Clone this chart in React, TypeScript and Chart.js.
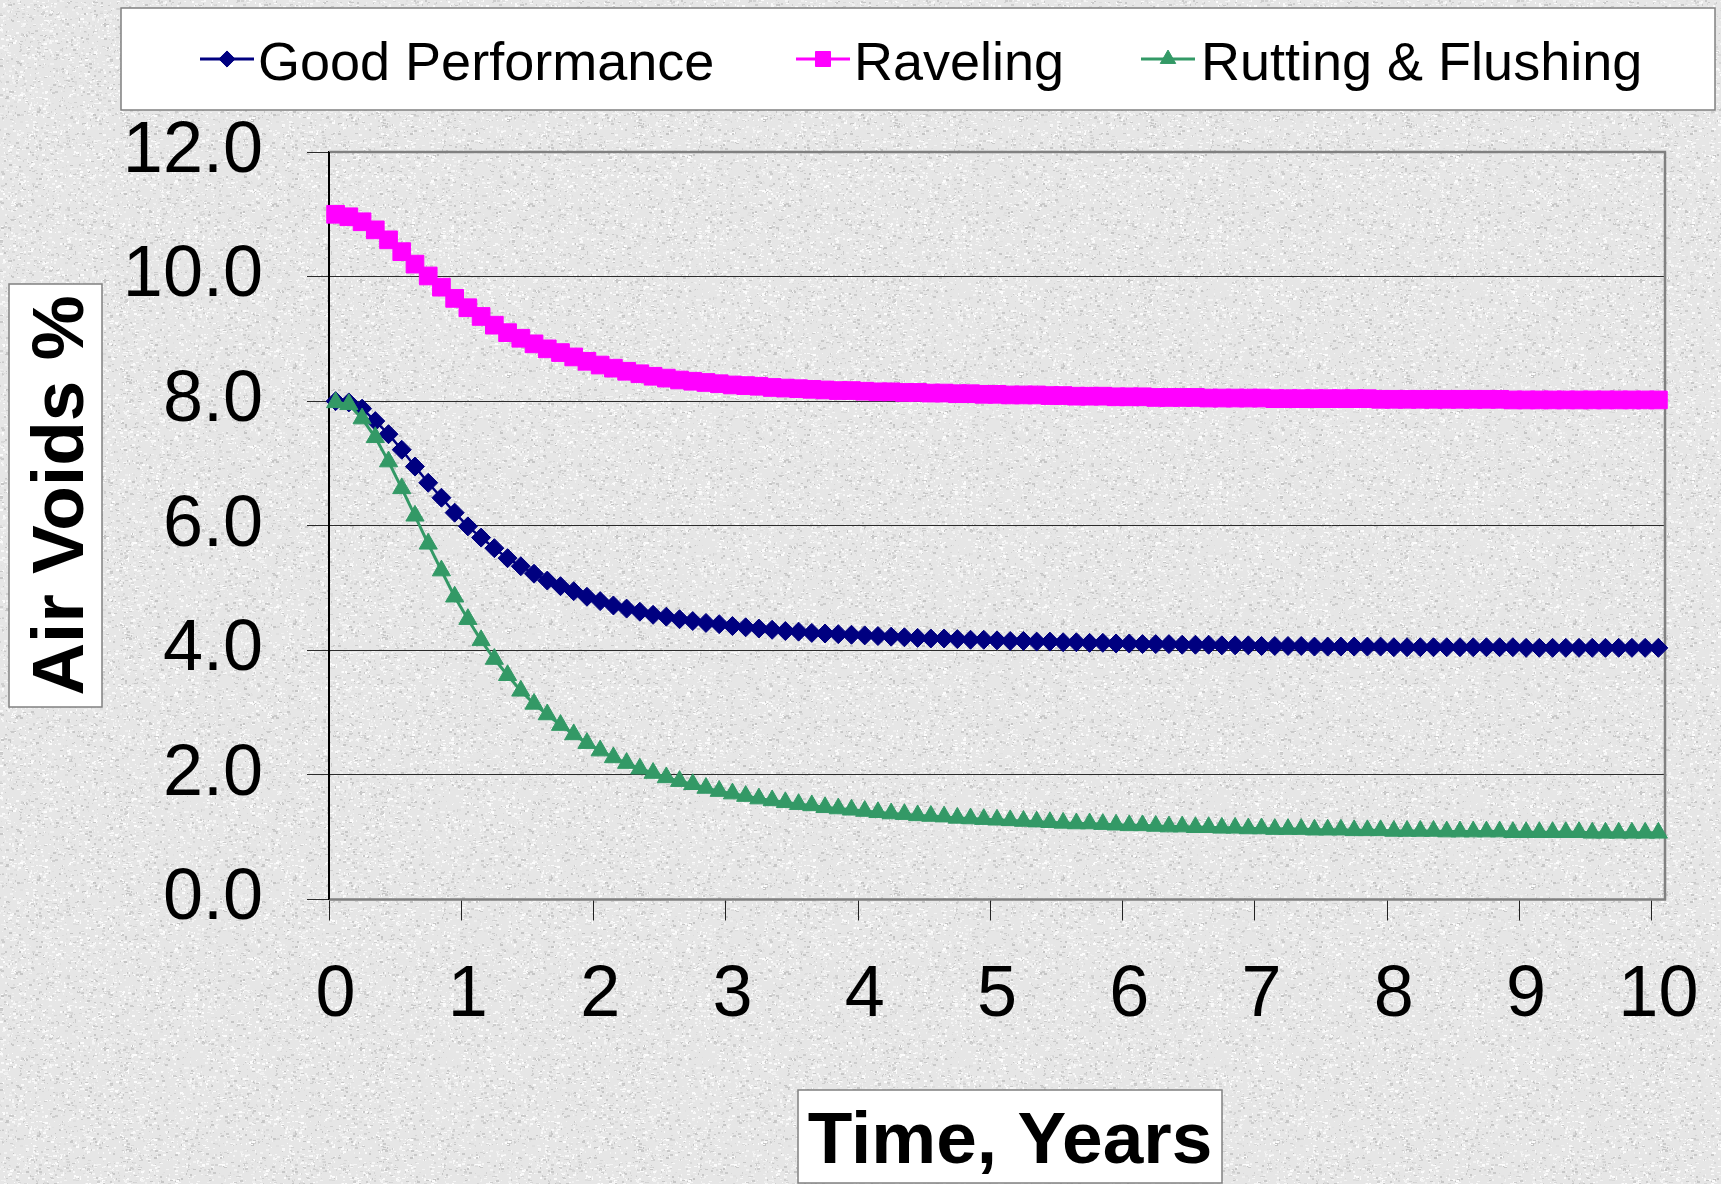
import React, { useEffect, useRef } from 'react';
import { Chart, registerables } from 'chart.js';

Chart.register(...registerables);

// ---- data -------------------------------------------------------------

// Time in years, one category every 0.1 year
const YEARS = [
  0, 0.1, 0.2, 0.3, 0.4, 0.5, 0.6, 0.7, 0.8, 0.9,
  1, 1.1, 1.2, 1.3, 1.4, 1.5, 1.6, 1.7, 1.8, 1.9,
  2, 2.1, 2.2, 2.3, 2.4, 2.5, 2.6, 2.7, 2.8, 2.9,
  3, 3.1, 3.2, 3.3, 3.4, 3.5, 3.6, 3.7, 3.8, 3.9,
  4, 4.1, 4.2, 4.3, 4.4, 4.5, 4.6, 4.7, 4.8, 4.9,
  5, 5.1, 5.2, 5.3, 5.4, 5.5, 5.6, 5.7, 5.8, 5.9,
  6, 6.1, 6.2, 6.3, 6.4, 6.5, 6.6, 6.7, 6.8, 6.9,
  7, 7.1, 7.2, 7.3, 7.4, 7.5, 7.6, 7.7, 7.8, 7.9,
  8, 8.1, 8.2, 8.3, 8.4, 8.5, 8.6, 8.7, 8.8, 8.9,
  9, 9.1, 9.2, 9.3, 9.4, 9.5, 9.6, 9.7, 9.8, 9.9,
  10,
];

// Labels shown under every tenth category
const X_TICK_LABELS = ['0', '1', '2', '3', '4', '5', '6', '7', '8', '9', '10'];

const SERIES_NAMES = ['Good Performance', 'Raveling', 'Rutting & Flushing'];

// Air voids (%)
const GOOD_PERFORMANCE = [
  8.0, 7.98, 7.88, 7.68, 7.47, 7.22, 6.95, 6.69, 6.45, 6.21,
  5.99, 5.81, 5.64, 5.48, 5.35, 5.23, 5.12, 5.03, 4.95, 4.86,
  4.79, 4.72, 4.67, 4.62, 4.57, 4.54, 4.5, 4.47, 4.44, 4.42,
  4.39, 4.37, 4.35, 4.33, 4.31, 4.3, 4.28, 4.27, 4.26, 4.25,
  4.24, 4.23, 4.22, 4.21, 4.2, 4.19, 4.19, 4.18, 4.17, 4.17,
  4.16, 4.15, 4.15, 4.14, 4.14, 4.13, 4.13, 4.12, 4.12, 4.11,
  4.11, 4.1, 4.1, 4.1, 4.09, 4.09, 4.09, 4.08, 4.08, 4.08,
  4.07, 4.07, 4.07, 4.07, 4.06, 4.06, 4.06, 4.06, 4.06, 4.06,
  4.05, 4.05, 4.05, 4.05, 4.05, 4.05, 4.05, 4.05, 4.05, 4.05,
  4.04, 4.04, 4.04, 4.04, 4.04, 4.04, 4.04, 4.04, 4.04, 4.04,
  4.04,
];

const RAVELING = [
  11.0, 10.96, 10.88, 10.75, 10.59, 10.4, 10.2, 10.01, 9.83, 9.65,
  9.5, 9.36, 9.22, 9.1, 9.01, 8.92, 8.84, 8.78, 8.71, 8.64,
  8.58, 8.53, 8.48, 8.44, 8.4, 8.37, 8.34, 8.32, 8.3, 8.28,
  8.26, 8.25, 8.24, 8.22, 8.21, 8.2, 8.19, 8.18, 8.17, 8.17,
  8.16, 8.15, 8.15, 8.14, 8.14, 8.13, 8.13, 8.12, 8.12, 8.11,
  8.11, 8.1, 8.1, 8.1, 8.09, 8.09, 8.08, 8.08, 8.08, 8.07,
  8.07, 8.07, 8.06, 8.06, 8.06, 8.06, 8.05, 8.05, 8.05, 8.05,
  8.05, 8.04, 8.04, 8.04, 8.04, 8.04, 8.04, 8.04, 8.04, 8.03,
  8.03, 8.03, 8.03, 8.03, 8.03, 8.03, 8.03, 8.03, 8.03, 8.02,
  8.02, 8.02, 8.02, 8.02, 8.02, 8.02, 8.02, 8.02, 8.02, 8.02,
  8.02,
];

const RUTTING_FLUSHING = [
  7.98, 7.95, 7.72, 7.42, 7.03, 6.6, 6.16, 5.71, 5.28, 4.86,
  4.5, 4.16, 3.86, 3.6, 3.35, 3.14, 2.97, 2.8, 2.65, 2.51,
  2.39, 2.28, 2.19, 2.1, 2.03, 1.96, 1.9, 1.85, 1.79, 1.74,
  1.7, 1.66, 1.62, 1.59, 1.56, 1.53, 1.51, 1.48, 1.46, 1.44,
  1.42, 1.4, 1.38, 1.37, 1.35, 1.34, 1.33, 1.31, 1.3, 1.29,
  1.28, 1.27, 1.26, 1.25, 1.24, 1.23, 1.22, 1.22, 1.21, 1.2,
  1.19, 1.19, 1.18, 1.17, 1.17, 1.16, 1.16, 1.15, 1.15, 1.14,
  1.14, 1.13, 1.13, 1.13, 1.12, 1.12, 1.12, 1.11, 1.11, 1.11,
  1.1, 1.1, 1.1, 1.1, 1.09, 1.09, 1.09, 1.09, 1.09, 1.08,
  1.08, 1.08, 1.08, 1.08, 1.08, 1.07, 1.07, 1.07, 1.07, 1.07,
  1.07,
];

const Y_MIN = 0;
const Y_MAX = 12;
const Y_STEP = 2;

// ---- styling ----------------------------------------------------------

const FONT = '"Liberation Sans", Arial, Helvetica, sans-serif';
const NAVY = '#000080';
const MAGENTA = '#ff00ff';
const SEA_GREEN = '#339966';
const FRAME_GRAY = '#808080';

const CANVAS_W = 1721;
const CANVAS_H = 1184;
const PLOT = { left: 329, top: 152, right: 1665, bottom: 899.5 };
const X_AXIS_HEIGHT = 200;

type MarkerStyle = 'rectRot' | 'rect' | 'triangle';

const MARKERS: { style: MarkerStyle; radius: number; color: string }[] = [
  { style: 'rectRot', radius: 9.5, color: NAVY },
  { style: 'rect', radius: 12.5, color: MAGENTA },
  { style: 'triangle', radius: 10.5, color: SEA_GREEN },
];

// Speckled grey "granite" fill used behind the whole chart
function makeGranite(): HTMLCanvasElement {
  const size = 256;
  const c = document.createElement('canvas');
  c.width = size;
  c.height = size;
  const g = c.getContext('2d')!;
  g.fillStyle = '#e6e6e6';
  g.fillRect(0, 0, size, size);
  let seed = 0x2f6b3a1d;
  const next = () => {
    seed = (seed + 0x6d2b79f5) | 0;
    let t = Math.imul(seed ^ (seed >>> 15), 1 | seed);
    t = (t + Math.imul(t ^ (t >>> 7), 61 | t)) ^ t;
    return ((t ^ (t >>> 14)) >>> 0) / 4294967296;
  };
  for (let k = 0; k < 6000; k++) {
    const x = Math.floor(next() * size);
    const y = Math.floor(next() * size);
    const dark = next() < 0.42;
    const v = dark ? 196 + Math.floor(next() * 30) : 238 + Math.floor(next() * 16);
    g.fillStyle = `rgb(${v},${v},${v})`;
    g.fillRect(x, y, 1 + Math.floor(next() * 3), 1 + Math.floor(next() * 2));
  }
  return c;
}

function drawMarker(
  ctx: CanvasRenderingContext2D,
  style: MarkerStyle,
  x: number,
  y: number,
  r: number,
  color: string,
) {
  ctx.save();
  ctx.fillStyle = color;
  ctx.strokeStyle = color;
  ctx.lineWidth = 1;
  ctx.beginPath();
  if (style === 'rectRot') {
    ctx.moveTo(x - r, y);
    ctx.lineTo(x, y - r);
    ctx.lineTo(x + r, y);
    ctx.lineTo(x, y + r);
  } else if (style === 'rect') {
    const s = Math.SQRT1_2 * r;
    ctx.rect(x - s, y - s, 2 * s, 2 * s);
  } else {
    let a = 0;
    ctx.moveTo(x + Math.sin(a) * r, y - Math.cos(a) * r);
    a += (2 * Math.PI) / 3;
    ctx.lineTo(x + Math.sin(a) * r, y - Math.cos(a) * r);
    a += (2 * Math.PI) / 3;
    ctx.lineTo(x + Math.sin(a) * r, y - Math.cos(a) * r);
  }
  ctx.closePath();
  ctx.fill();
  ctx.stroke();
  ctx.restore();
}

function boxedRect(ctx: CanvasRenderingContext2D, x: number, y: number, w: number, h: number) {
  ctx.fillStyle = '#ffffff';
  ctx.fillRect(x, y, w, h);
  ctx.strokeStyle = FRAME_GRAY;
  ctx.lineWidth = 1.5;
  ctx.strokeRect(x, y, w, h);
}

// Background, plot frame, legend and boxed axis titles
function makeDecorPlugin(granite: HTMLCanvasElement) {
  return {
    id: 'decor',
    beforeDraw(chart: Chart) {
      const ctx = chart.ctx;
      ctx.save();
      const pattern = ctx.createPattern(granite, 'repeat');
      ctx.fillStyle = pattern || '#e6e6e6';
      ctx.fillRect(0, 0, chart.width, chart.height);
      ctx.restore();
    },
    beforeDatasetsDraw(chart: Chart) {
      const { left, top, right, bottom } = chart.chartArea;
      const ctx = chart.ctx;
      ctx.save();
      ctx.strokeStyle = FRAME_GRAY;
      ctx.lineWidth = 2.5;
      ctx.beginPath();
      ctx.moveTo(left, top);
      ctx.lineTo(right, top);
      ctx.lineTo(right, bottom);
      ctx.lineTo(left, bottom);
      ctx.stroke();
      ctx.strokeStyle = '#000000';
      ctx.lineWidth = 2;
      ctx.beginPath();
      ctx.moveTo(left, top);
      ctx.lineTo(left, bottom);
      ctx.stroke();
      ctx.restore();
    },
    afterDraw(chart: Chart) {
      const ctx = chart.ctx;
      ctx.save();

      // legend
      boxedRect(ctx, 121, 8, 1594, 102);
      const legendY = 59;
      const entries = [
        { x: 200, textX: 258 },
        { x: 796, textX: 854 },
        { x: 1141, textX: 1201 },
      ];
      ctx.font = `54px ${FONT}`;
      ctx.textAlign = 'left';
      ctx.textBaseline = 'alphabetic';
      entries.forEach((e, i) => {
        const m = MARKERS[i];
        ctx.strokeStyle = m.color;
        ctx.lineWidth = 3;
        ctx.beginPath();
        ctx.moveTo(e.x, legendY);
        ctx.lineTo(e.x + 54, legendY);
        ctx.stroke();
        drawMarker(ctx, m.style, e.x + 27, legendY, m.radius * 0.85, m.color);
        ctx.fillStyle = '#000000';
        ctx.fillText(SERIES_NAMES[i], e.textX, 80);
      });

      // y-axis title
      boxedRect(ctx, 9, 284, 93, 423);
      ctx.save();
      ctx.translate(83, 495.5);
      ctx.rotate(-Math.PI / 2);
      ctx.font = `bold 73px ${FONT}`;
      ctx.fillStyle = '#000000';
      ctx.textAlign = 'center';
      ctx.fillText('Air Voids %', 0, 0);
      ctx.restore();

      // x-axis title
      boxedRect(ctx, 798, 1090, 424, 93);
      ctx.font = `bold 73px ${FONT}`;
      ctx.fillStyle = '#000000';
      ctx.textAlign = 'center';
      ctx.fillText('Time, Years', 1010, 1163);

      ctx.restore();
    },
  };
}

export default function App() {
  const canvasRef = useRef<HTMLCanvasElement>(null);

  useEffect(() => {
    const canvas = canvasRef.current;
    if (!canvas) return;
    const granite = makeGranite();

    const series = [GOOD_PERFORMANCE, RAVELING, RUTTING_FLUSHING];
    const datasets = series.map((values, i) => {
      const m = MARKERS[i];
      return {
        label: SERIES_NAMES[i],
        data: values,
        borderColor: m.color,
        backgroundColor: m.color,
        borderWidth: i === 2 ? 3 : 2.5,
        pointStyle: m.style,
        pointRadius: m.radius,
        pointHoverRadius: m.radius,
        pointBorderWidth: 1,
        pointBackgroundColor: m.color,
        pointBorderColor: m.color,
        tension: 0,
        clip: false as const,
        // later series are painted over earlier ones
        order: 3 - i,
      };
    });

    const chart = new Chart(canvas, {
      type: 'line',
      data: { labels: YEARS, datasets },
      options: {
        responsive: false,
        animation: false,
        events: [],
        layout: {
          padding: {
            left: 0,
            top: PLOT.top,
            right: CANVAS_W - PLOT.right,
            bottom: CANVAS_H - PLOT.bottom - X_AXIS_HEIGHT,
          },
        },
        plugins: {
          legend: { display: false },
          tooltip: { enabled: false },
        },
        scales: {
          x: {
            type: 'category',
            offset: true,
            grid: {
              offset: true,
              drawOnChartArea: false,
              drawTicks: true,
              tickLength: 21,
              tickWidth: 1,
              tickColor: (c: any) =>
                typeof c.index === 'number' && c.index % 10 === 0 ? '#222222' : 'rgba(0,0,0,0)',
            },
            border: { display: false },
            ticks: {
              autoSkip: false,
              maxRotation: 0,
              minRotation: 0,
              padding: 32,
              color: '#000000',
              font: { family: FONT, size: 72 },
              callback: (_v: any, i: number) => (i % 10 === 0 ? X_TICK_LABELS[i / 10] : ''),
            },
            afterFit: (s: any) => {
              s.height = X_AXIS_HEIGHT;
              // the outer padding already leaves room for the end labels
              s.paddingLeft = 0;
              s.paddingRight = 0;
            },
          },
          y: {
            min: Y_MIN,
            max: Y_MAX,
            grid: {
              color: '#2b2b2b',
              lineWidth: 1,
              tickLength: 22,
              tickColor: '#2b2b2b',
            },
            border: { display: true, color: '#000000', width: 2 },
            ticks: {
              stepSize: Y_STEP,
              padding: 44,
              color: '#000000',
              font: { family: FONT, size: 72 },
              callback: (v: any) => Number(v).toFixed(1),
            },
            afterFit: (s: any) => {
              s.width = PLOT.left;
              s.paddingTop = 0;
              s.paddingBottom = 0;
            },
          },
        },
      },
      plugins: [makeDecorPlugin(granite)],
    } as any);

    return () => chart.destroy();
  }, []);

  return (
    <div style={{ position: 'fixed', left: 0, top: 0, width: CANVAS_W, height: CANVAS_H }}>
      <canvas
        ref={canvasRef}
        width={CANVAS_W}
        height={CANVAS_H}
        style={{ display: 'block', width: CANVAS_W, height: CANVAS_H }}
      />
    </div>
  );
}
